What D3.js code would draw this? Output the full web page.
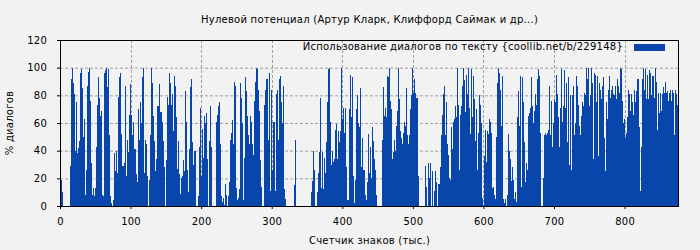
<!DOCTYPE html>
<html>
<head>
<meta charset="utf-8">
<script src="https://cdn.jsdelivr.net/npm/d3@7"></script>
<style>
  html, body { margin: 0; padding: 0; background: #f2f2f2; }
  svg { display: block; font-family: "DejaVu Sans", sans-serif; letter-spacing: 0.25px; }
</style>
</head>
<body>
<svg id="chart" width="700" height="250"></svg>
<script>
// ── Data ──────────────────────────────────────────────────────────────────────
const chartTitle  = 'Нулевой потенциал (Артур Кларк, Клиффорд Саймак и др...)';
const xAxisLabel  = 'Счетчик знаков (тыс.)';
const yAxisLabel  = '% диалогов';
const legendLabel = 'Использование диалогов по тексту {coollib.net/b/229148}';

const xTicks = [0, 100, 200, 300, 400, 500, 600, 700, 800];
const yTicks = [0, 20, 40, 60, 80, 100, 120];

// thousand chars covered by one bar
const binK = 1.417;

// % of dialogue per bar, read left to right
const dialogShare = [
  38,19,10,0,0,0,0,0,0,0, 29,92,100,89,81,40,75,38,42,47, 96,99,85,50,63,8,26,87,97,100,
  76,31,8,13,7,13,43,73,93,78, 65,69,8,7,96,98,100,86,99,51, 7,2,0,4,38,25,40,24,79,93,
  96,52,29,29,31,87,22,48,39,66, 88,66,51,61,41,41,23,17,70,48, 75,60,93,100,24,48,45,22,0,19,
  51,100,89,65,47,25,34,72,72,88, 68,68,61,
  47,28,0,33,79,73,96,89,73,81, 54,94,87,64,27,47,23,9,20,22, 33,25,83,61,26,10,41,86,92,46,
  30,40,40,0,0,7,43,71,22,56, 35,65,60,67,34,0,47,72,43,0, 0,0,0,61,66,72,75,45,7,3,
  6,1,16,8,0,7,17,48,53,62, 45,90,87,13,4,6,12,89,78,60, 4,35,93,83,65,51,45,65,61,45,
  37,76,90,100,99,84,69,33,14,0, 0,73,84,92,92,
  48,96,11,84,26,61,61,11,81,84, 48,92,94,75,60,87,12,5,0,0, 0,0,0,0,0,0,15,48,0,0,
  0,0,0,0,0,0,0,0,0,0, 0,0,0,10,18,40,26,0,0,10, 24,39,78,13,39,12,35,24,46,75,
  99,100,61,30,40,32,34,55,59,34, 54,46,54,100,63,71,53,71,28,4, 4,70,95,64,93,22,2,19,70,80,
  60,57,85,28,49,26,26,8,4,17, 52,24,43,20,57,
  47,34,26,8,0,0,0,0,0,48, 86,65,71,64,94,93,100,76,70,34, 39,48,40,58,69,100,77,54,49,45,
  53,61,58,85,51,45,51,70,80,100, 82,92,82,78,78,22,0,0,0,0, 0,0,29,14,0,31,20,31,0,25,
  0,11,25,17,0,16,16,28,51,66, 81,87,51,75,45,37,20,19,57,41, 61,63,72,64,100,73,26,66,72,87,
  100,91,68,95,81,100,71,52,99,64, 94,77,47,70,26,
  53,80,73,60,6,1,36,55,32,54, 52,63,61,53,13,14,8,5,50,89, 100,96,84,58,94,5,2,5,0,8,
  52,40,34,18,28,19,5,10,3,64, 83,58,94,14,93,75,46,17,31,26, 65,67,71,93,72,60,69,81,73,92,
  99,94,53,0,0,20,51,53,51,53, 55,87,51,76,43,60,77,75,95,81, 64,43,71,99,61,72,98,71,89,46,
  93,30,80,26,80,87,51,60,94,87, 73,58,51,65,75,
  72,82,80,100,92,100,72,80,100,89, 34,96,95,75,94,36,89,84,77,87, 93,49,25,75,63,84,94,78,84,87,
  81,80,87,77,92,87,82,100,99,76, 60,63,49,53,64,84,81,69,81,75, 66,84,75,83,92,92,57,11,43,92,
  100,84,99,77,95,77,98,96,80,94, 94,78,100,90,55,82,67,82,69,81, 86,82,90,82,83,76,82,84,76,84,
  82,51,84,81,73,73
];

// ── Dimensions ────────────────────────────────────────────────────────────────
const W = 700, H = 250;
const margin = { top: 40, right: 21, bottom: 44, left: 60 };
const w = W - margin.left - margin.right;
const h = H - margin.top - margin.bottom;

const barColor  = '#0846ac';
const gridColor = '#a0a0a0';
const fontSize  = 10;

// ── Chart ─────────────────────────────────────────────────────────────────────
const svg = d3.select('#chart');

const x = d3.scaleLinear()
  .domain([0, dialogShare.length * binK])
  .range([0, w]);

const y = d3.scaleLinear()
  .domain([0, 120])
  .range([h, 0]);

const g = svg.append('g')
  .attr('transform', `translate(${margin.left},${margin.top})`);

// Grid
g.append('g')
  .selectAll('line')
  .data(yTicks.filter(d => d > 0 && d < 120))
  .join('line')
  .attr('x1', 0).attr('x2', w)
  .attr('y1', d => y(d) + 0.5).attr('y2', d => y(d) + 0.5)
  .attr('stroke', gridColor)
  .attr('stroke-dasharray', '3 2');

g.append('g')
  .selectAll('line')
  .data(xTicks.filter(d => d > 0))
  .join('line')
  .attr('x1', d => Math.round(x(d)) + 0.5).attr('x2', d => Math.round(x(d)) + 0.5)
  .attr('y1', 0).attr('y2', h)
  .attr('stroke', gridColor)
  .attr('stroke-dasharray', '3 2');

// Bars
g.append('g')
  .selectAll('rect')
  .data(dialogShare)
  .join('rect')
  .attr('x', (d, i) => x(i * binK))
  .attr('width', (d, i) => x((i + 1) * binK) - x(i * binK))
  .attr('y', d => y(d))
  .attr('height', d => h - y(d))
  .attr('fill', barColor)
  .attr('shape-rendering', 'crispEdges');

// Axes
const xAxis = g.append('g')
  .attr('transform', `translate(0,${h})`)
  .call(d3.axisBottom(x).tickValues(xTicks).tickSize(3).tickPadding(9).tickFormat(d3.format('d')));

const yAxis = g.append('g')
  .call(d3.axisLeft(y).tickValues(yTicks).tickSize(3).tickPadding(10));

[xAxis, yAxis].forEach(a => {
  a.select('.domain').remove();
  a.selectAll('text').attr('font-size', fontSize).attr('font-family', 'DejaVu Sans, sans-serif').attr('fill', '#000');
  a.selectAll('line').attr('stroke', '#000');
});

// Frame
g.append('rect')
  .attr('x', 0.5).attr('y', 0.5)
  .attr('width', w - 1).attr('height', h)
  .attr('fill', 'none')
  .attr('stroke', '#000');

// Legend
g.append('text')
  .attr('x', 563).attr('y', 10)
  .attr('text-anchor', 'end')
  .attr('font-size', fontSize)
  .text(legendLabel);

g.append('rect')
  .attr('x', 574).attr('y', 4)
  .attr('width', 31).attr('height', 7)
  .attr('fill', barColor);

// Title and axis labels
svg.append('text')
  .attr('x', margin.left + w / 2).attr('y', 23)
  .attr('text-anchor', 'middle')
  .attr('font-size', fontSize)
  .text(chartTitle);

svg.append('text')
  .attr('x', margin.left + w / 2).attr('y', 244)
  .attr('text-anchor', 'middle')
  .attr('font-size', fontSize)
  .text(xAxisLabel);

svg.append('text')
  .attr('text-anchor', 'middle')
  .attr('transform', `translate(13, ${margin.top + h / 2}) rotate(-90)`)
  .attr('font-size', fontSize)
  .text(yAxisLabel);
</script>
</body>
</html>
